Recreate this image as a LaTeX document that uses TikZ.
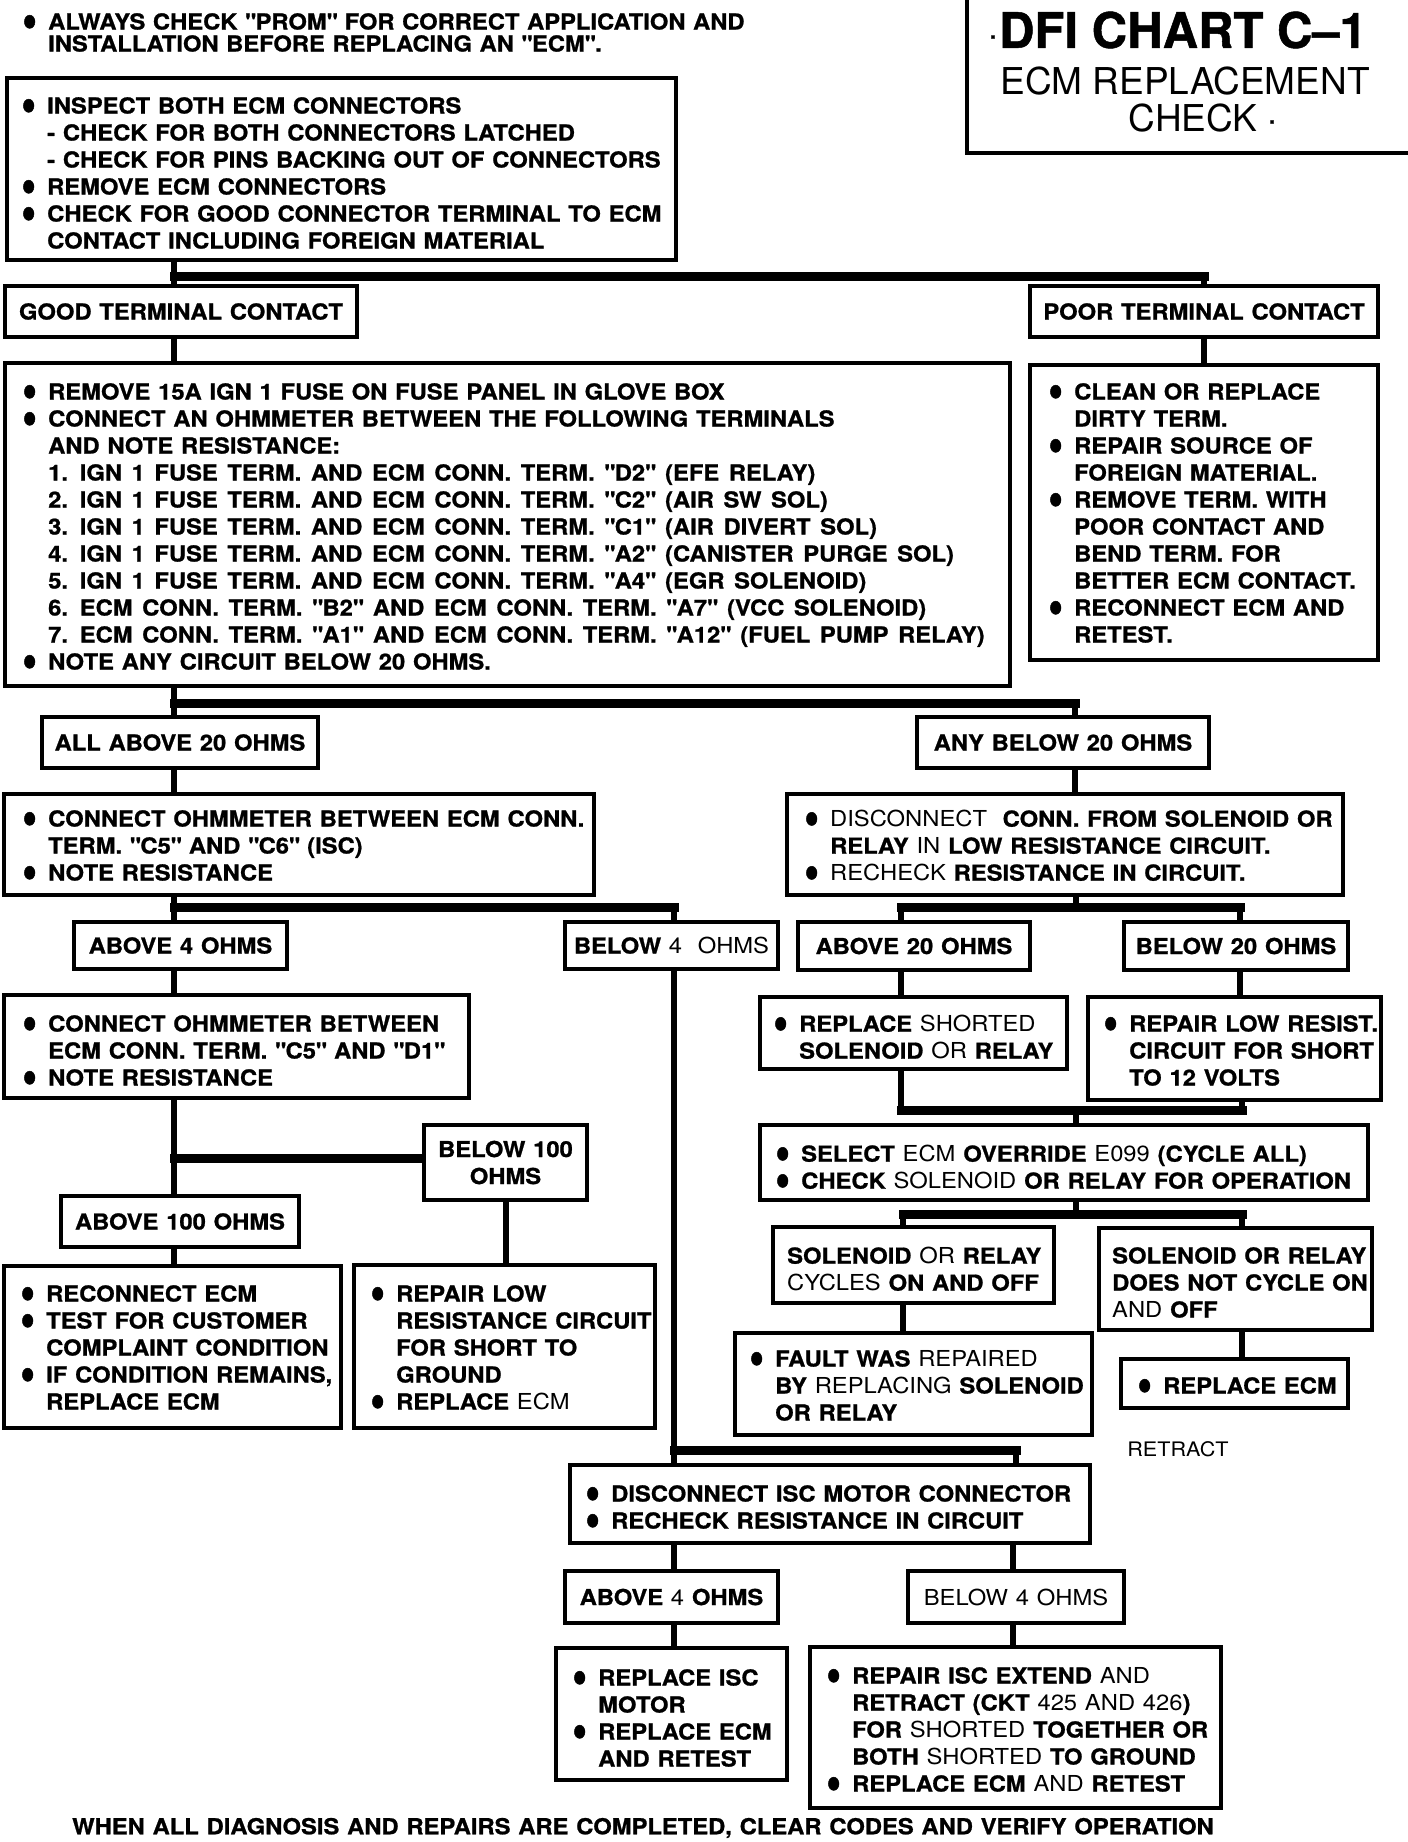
\documentclass[tikz,border=0pt]{standalone}
\usepackage{fontspec}
\usepackage{graphicx}
\setmainfont{TeX Gyre Heros}[FakeStretch=1.08,BoldFeatures={FakeBold=1}]
\newfontfamily\titlefont{TeX Gyre Heros}[BoldFeatures={FakeBold=1}]
\pgfdeclarelayer{bg}
\pgfsetlayers{bg,main}
\newcommand\bx{\fontsize{22}{27}\selectfont\bfseries\spaceskip=7.8pt\relax}
\newcommand\hd{\fontsize{22}{22}\selectfont\bfseries\spaceskip=7.6pt\relax}
\newcommand\rg[1]{{\mdseries #1}}
\newcommand\qq[1]{\textquotedbl#1\textquotedbl}
\newcommand\wsp[1]{{\spaceskip=9.6pt\relax #1}}
\newcommand\bul{\makebox[26pt][l]{\raisebox{-8.1pt}[0pt][0pt]{\scalebox{1.8}[2.4]{•}}}}
\newcommand\nb{\makebox[26pt]{}}
\newcommand\mkbox[6]{\node[box,minimum width={#4-#2},minimum height={#5-#3}] (#1) at (#2,#3) {#6};}
\tikzset{
  box/.style={draw, line width=4pt, fill=white, inner sep=0pt, outer sep=0pt, anchor=north west, align=center, font=\bx},
  txt/.style={inner sep=0pt, anchor=north west, align=left, font=\bx},
  conn/.style={line width=6pt},
  bar/.style={line width=9pt, line cap=rect},
}
\begin{document}
\begin{tikzpicture}[x=1pt,y=-1pt]
\useasboundingbox (0,0) rectangle (1408,1842);
% title box
\node[box, minimum width=480, minimum height=183] (ttlbox) at (967,-30) {};
\node[inner sep=0pt, font=\titlefont\fontsize{49}{49}\selectfont\bfseries] (ttl1) at (1183,30) {DFI CHART C–1};
\node[inner sep=0pt, font=\titlefont\fontsize{22}{22}\selectfont\bfseries] (tdot1) at (993,37) {.};
\node[inner sep=0pt, font=\titlefont\fontsize{37}{37}\selectfont] (ttl2) at (1185,81) {ECM REPLACEMENT};
\node[inner sep=0pt, font=\titlefont\fontsize{37}{37}\selectfont] (ttl3) at (1193,118) {CHECK};
\node[inner sep=0pt, font=\titlefont\fontsize{22}{22}\selectfont\bfseries] (tdot2) at (1272,122) {.};
% header
\node[txt, font=\hd] (hdr) at (22,13) {\bul ALWAYS CHECK \qq{PROM} FOR CORRECT APPLICATION AND\\\nb INSTALLATION BEFORE REPLACING AN \qq{ECM}.};
% boxes
\mkbox{b1}{7}{78}{676}{260}{}
\mkbox{good}{5}{286}{357}{337}{GOOD TERMINAL CONTACT}
\mkbox{poor}{1030}{286}{1378}{337}{POOR TERMINAL CONTACT}
\mkbox{b2}{5}{363}{1010}{686}{}
\mkbox{b3}{1030}{365}{1378}{660}{}
\mkbox{allab}{42}{717}{318}{768}{ALL ABOVE 20 OHMS}
\mkbox{anybl}{917}{717}{1209}{768}{ANY BELOW 20 OHMS}
\mkbox{b4}{4}{794}{594}{895}{}
\mkbox{b5}{787}{794}{1343}{895}{}
\mkbox{ab4}{74}{922}{287}{969}{ABOVE 4 OHMS}
\mkbox{bl4}{565}{922}{778}{969}{BELOW \rg{4\ \ OHMS}}
\mkbox{ab20}{798}{922}{1030}{970}{ABOVE 20 OHMS}
\mkbox{bl20}{1124}{922}{1348}{970}{BELOW 20 OHMS}
\mkbox{b6}{4}{995}{469}{1098}{}
\mkbox{b7}{760}{997}{1067}{1069}{}
\mkbox{b8}{1088}{997}{1381}{1100}{}
\mkbox{bl100}{424}{1125}{587}{1200}{BELOW 100\\OHMS}
\mkbox{ab100}{61}{1196}{299}{1247}{ABOVE 100 OHMS}
\mkbox{b9}{4}{1266}{341}{1428}{}
\mkbox{b10}{354}{1265}{655}{1428}{}
\mkbox{b11}{760}{1125}{1368}{1200}{}
\mkbox{b12}{773}{1227}{1054}{1303}{}
\mkbox{b13}{1099}{1228}{1372}{1330}{}
\mkbox{b14}{735}{1333}{1092}{1435}{}
\mkbox{b15}{1121}{1359}{1348}{1408}{}
\mkbox{b16}{570}{1465}{1090}{1543}{}
\mkbox{ab4b}{565}{1571}{778}{1623}{ABOVE \rg{4} OHMS}
\mkbox{bl4b}{908}{1571}{1124}{1623}{\rg{BELOW 4 OHMS}}
\mkbox{b17}{556}{1648}{787}{1780}{}
\mkbox{b18}{810}{1647}{1221}{1808}{}
% texts
\node[txt] (t1) at (21,97) {\bul INSPECT BOTH ECM CONNECTORS\\\nb - CHECK FOR BOTH CONNECTORS LATCHED\\\nb - CHECK FOR PINS BACKING OUT OF CONNECTORS\\\bul REMOVE ECM CONNECTORS\\\bul CHECK FOR GOOD CONNECTOR TERMINAL TO ECM\\\nb CONTACT INCLUDING FOREIGN MATERIAL};
\node[txt] (t2) at (22,383) {\bul REMOVE 15A IGN 1 FUSE ON FUSE PANEL IN GLOVE BOX\\\bul CONNECT AN OHMMETER BETWEEN THE FOLLOWING TERMINALS\\\nb AND NOTE RESISTANCE:\\\nb \wsp{1. IGN 1 FUSE TERM. AND ECM CONN. TERM. \qq{D2} (EFE RELAY)}\\\nb \wsp{2. IGN 1 FUSE TERM. AND ECM CONN. TERM. \qq{C2} (AIR SW SOL)}\\\nb \wsp{3. IGN 1 FUSE TERM. AND ECM CONN. TERM. \qq{C1} (AIR DIVERT SOL)}\\\nb \wsp{4. IGN 1 FUSE TERM. AND ECM CONN. TERM. \qq{A2} (CANISTER PURGE SOL)}\\\nb \wsp{5. IGN 1 FUSE TERM. AND ECM CONN. TERM. \qq{A4} (EGR SOLENOID)}\\\nb \wsp{6. ECM CONN. TERM. \qq{B2} AND ECM CONN. TERM. \qq{A7} (VCC SOLENOID)}\\\nb \wsp{7. ECM CONN. TERM. \qq{A1} AND ECM CONN. TERM. \qq{A12} (FUEL PUMP RELAY)}\\\bul NOTE ANY CIRCUIT BELOW 20 OHMS.};
\node[txt] (t3) at (1048,383) {\bul CLEAN OR REPLACE\\\nb DIRTY TERM.\\\bul REPAIR SOURCE OF\\\nb FOREIGN MATERIAL.\\\bul REMOVE TERM. WITH\\\nb POOR CONTACT AND\\\nb BEND TERM. FOR\\\nb BETTER ECM CONTACT.\\\bul RECONNECT ECM AND\\\nb RETEST.};
\node[txt] (t4) at (22,810) {\bul CONNECT OHMMETER BETWEEN ECM CONN.\\\nb TERM. \qq{C5} AND \qq{C6} (ISC)\\\bul NOTE RESISTANCE};
\node[txt] (t5) at (804,810) {\bul \rg{DISCONNECT}\ \ CONN. FROM SOLENOID OR\\\nb RELAY \rg{IN} LOW RESISTANCE CIRCUIT.\\\bul \rg{RECHECK} RESISTANCE IN CIRCUIT.};
\node[txt] (t6) at (22,1015) {\bul CONNECT OHMMETER BETWEEN\\\nb ECM CONN. TERM. \qq{C5} AND \qq{D1}\\\bul NOTE RESISTANCE};
\node[txt] (t7) at (773,1015) {\bul REPLACE \rg{SHORTED}\\\nb SOLENOID \rg{OR} RELAY};
\node[txt] (t8) at (1103,1015) {\bul REPAIR LOW RESIST.\\\nb CIRCUIT FOR SHORT\\\nb TO 12 VOLTS};
\node[txt] (t9) at (20,1285) {\bul RECONNECT ECM\\\bul TEST FOR CUSTOMER\\\nb COMPLAINT CONDITION\\\bul IF CONDITION REMAINS,\\\nb REPLACE ECM};
\node[txt] (t10) at (370,1285) {\bul REPAIR LOW\\\nb RESISTANCE CIRCUIT\\\nb FOR SHORT TO\\\nb GROUND\\\bul REPLACE \rg{ECM}};
\node[txt] (t11) at (775,1145) {\bul SELECT \rg{ECM} OVERRIDE \rg{E099} (CYCLE ALL)\\\bul CHECK \rg{SOLENOID} OR RELAY FOR OPERATION};
\node[txt] (t12) at (787,1247) {SOLENOID \rg{OR} RELAY\\\rg{CYCLES} ON AND OFF};
\node[txt] (t13) at (1112,1247) {SOLENOID OR RELAY\\DOES NOT CYCLE ON\\\rg{AND} OFF};
\node[txt] (t14) at (749,1350) {\bul FAULT WAS \rg{REPAIRED}\\\nb BY \rg{REPLACING} SOLENOID\\\nb OR RELAY};
\node[txt] (t15) at (1137,1377) {\bul REPLACE ECM};
\node[inner sep=0pt, font=\fontsize{20}{20}\selectfont] (rtr) at (1178,1449) {RETRACT};
\node[txt] (t16) at (585,1485) {\bul DISCONNECT ISC MOTOR CONNECTOR\\\bul RECHECK RESISTANCE IN CIRCUIT};
\node[txt] (t17) at (572,1669) {\bul REPLACE ISC\\\nb MOTOR\\\bul REPLACE ECM\\\nb AND RETEST};
\node[txt] (t18) at (826,1667) {\bul REPAIR ISC EXTEND \rg{AND}\\\nb RETRACT (CKT \rg{425 AND 426})\\\nb FOR \rg{SHORTED} TOGETHER OR\\\nb BOTH \rg{SHORTED} TO GROUND\\\bul REPLACE ECM \rg{AND} RETEST};
\node[inner sep=0pt, font=\bx] (ftr) at (643,1828) {WHEN ALL DIAGNOSIS AND REPAIRS ARE COMPLETED, CLEAR CODES AND VERIFY OPERATION};
% connectors
\begin{pgfonlayer}{bg}
\fill[white] (0,0) rectangle (1408,1842);
\coordinate (a1) at (174,276); \coordinate (a2) at (1204,276);
\draw[conn] (b1.south -| a1) -- (good.north -| a1);
\draw[bar] (a1) -- (a2);
\draw[conn] (a2) -- (poor.north -| a2);
\draw[conn] (good.south -| a1) -- (b2.north -| a1);
\draw[conn] (poor.south -| a2) -- (b3.north -| a2);
\coordinate (c1) at (174,703); \coordinate (c2) at (1075,703);
\draw[conn] (b2.south -| c1) -- (allab.north -| c1);
\draw[bar] (c1) -- (c2);
\draw[conn] (c2) -- (anybl.north -| c2);
\draw[conn] (allab.south -| c1) -- (b4.north -| c1);
\draw[conn] (anybl.south -| c2) -- (b5.north -| c2);
\coordinate (e1) at (174,907); \coordinate (e2) at (674,907);
\draw[conn] (b4.south -| e1) -- (ab4.north -| e1);
\draw[bar] (e1) -- (e2);
\draw[conn] (e2) -- (bl4.north -| e2);
\coordinate (f0) at (1076,907); \coordinate (f1) at (901,907); \coordinate (f2) at (1240,907);
\draw[conn] (b5.south -| f0) -- (f0);
\draw[bar] (f1) -- (f2);
\draw[conn] (f1) -- (ab20.north -| f1);
\draw[conn] (f2) -- (bl20.north -| f2);
\draw[conn] (ab4.south -| e1) -- (b6.north -| e1);
\draw[conn] (ab20.south -| f1) -- (b7.north -| f1);
\draw[conn] (bl20.south -| f2) -- (b8.north -| f2);
\coordinate (h1) at (174,1158);
\draw[conn] (b6.south -| h1) -- (ab100.north -| h1);
\draw[bar] (h1) -- (bl100.west |- h1);
\draw[conn] (bl100.south) -- (b10.north -| bl100.south);
\draw[conn] (ab100.south -| h1) -- (b9.north -| h1);
\coordinate (i0) at (1076,1110); \coordinate (i1) at (901,1110); \coordinate (i2) at (1242,1110);
\draw[conn] (b7.south -| i1) -- (i1);
\draw[conn] (b8.south -| i2) -- (i2);
\draw[bar] (i1) -- (i2);
\draw[conn] (i0) -- (b11.north -| i0);
\coordinate (j0) at (1076,1214); \coordinate (j1) at (903,1214); \coordinate (j2) at (1242,1214);
\draw[conn] (b11.south -| j0) -- (j0);
\draw[bar] (j1) -- (j2);
\draw[conn] (j1) -- (b12.north -| j1);
\draw[conn] (j2) -- (b13.north -| j2);
\draw[conn] (b12.south -| j1) -- (b14.north -| j1);
\draw[conn] (b13.south -| j2) -- (b15.north -| j2);
\coordinate (l1) at (674,1450); \coordinate (l2) at (1016,1450);
\draw[conn] (bl4.south -| e2) -- (b16.north -| e2);
\draw[bar] (l1) -- (l2);
\draw[conn] (l2) -- (b16.north -| l2);
\coordinate (m2) at (1013,1557);
\draw[conn] (b16.south -| e2) -- (ab4b.north -| e2);
\draw[conn] (b16.south -| m2) -- (bl4b.north -| m2);
\draw[conn] (ab4b.south -| e2) -- (b17.north -| e2);
\draw[conn] (bl4b.south -| m2) -- (b18.north -| m2);
\end{pgfonlayer}
\end{tikzpicture}
\end{document}
